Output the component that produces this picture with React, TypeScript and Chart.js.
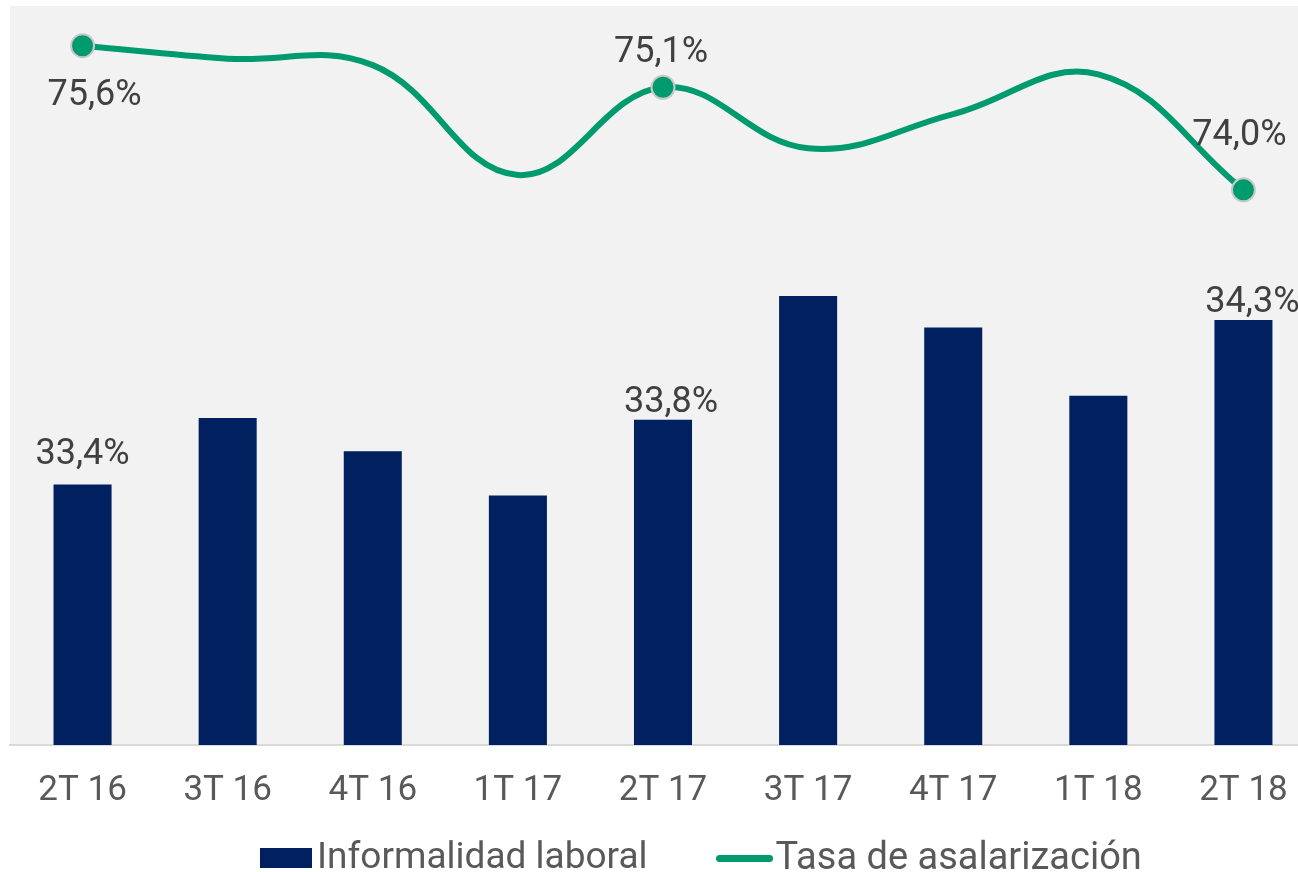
import React, { useEffect, useRef } from "react";
import { Chart, registerables } from "chart.js";

Chart.register(...registerables);

// ---- Data ----
const categories = ["2T 16", "3T 16", "4T 16", "1T 17", "2T 17", "3T 17", "4T 17", "1T 18", "2T 18"];
const informalidadLaboral = [33.41, 33.77, 33.59, 33.35, 33.76, 34.43, 34.26, 33.89, 34.3];
const tasaAsalarizacion = [75.57, 75.43, 75.36, 74.17, 75.12, 74.46, 74.83, 75.26, 74.01];
const labelledIndices = [0, 4, 8];
const barAxisRange = [32, 36];
const lineAxisRange = [68, 76];
const seriesNames = ["Informalidad laboral", "Tasa de asalarización"];

// ---- Styles ----
const NAVY = "#002060";
const GREEN = "#009a6f";
const PLOT_BG = "#f2f2f2";
const LABEL_COLOR = "#404040";
const TICK_COLOR = "#595959";
const FONT = "Roboto";

// label placement (dx, dy to baseline) relative to the mark
const barLabelPlacement = [
  [0, -21],
  [8, -8],
  [9, -8],
];
const lineLabelPlacement = [
  [12, 59],
  [-2, -25],
  [-4, -45],
];

const fmt = (v: number) => v.toFixed(1).replace(".", ",") + "%";

const plotBackground = {
  id: "plotBackground",
  beforeDraw(chart: any) {
    const { ctx, chartArea } = chart;
    ctx.save();
    ctx.fillStyle = PLOT_BG;
    ctx.fillRect(chartArea.left, chartArea.top, chartArea.right - chartArea.left, chartArea.bottom - chartArea.top);
    ctx.restore();
  },
};

const valueLabels = {
  id: "valueLabels",
  afterDatasetsDraw(chart: any) {
    const { ctx } = chart;
    ctx.save();
    ctx.font = `36px ${FONT}`;
    ctx.fillStyle = LABEL_COLOR;
    ctx.textAlign = "center";
    ctx.textBaseline = "alphabetic";
    const barMeta = chart.getDatasetMeta(0);
    const lineMeta = chart.getDatasetMeta(1);
    labelledIndices.forEach((idx, k) => {
      const b = barMeta.data[idx];
      const [bdx, bdy] = barLabelPlacement[k];
      ctx.fillText(fmt(informalidadLaboral[idx]), b.x + bdx, b.y + bdy);
      const p = lineMeta.data[idx];
      const [ldx, ldy] = lineLabelPlacement[k];
      ctx.fillText(fmt(tasaAsalarizacion[idx]), p.x + ldx, p.y + ldy);
    });
    ctx.restore();
  },
};

export default function App() {
  const canvasRef = useRef<HTMLCanvasElement | null>(null);

  useEffect(() => {
    if (!canvasRef.current) return;
    const pointRadii = categories.map((_, i) => (labelledIndices.includes(i) ? 11.5 : 0));
    const chart = new Chart(canvasRef.current, {
      type: "bar",
      data: {
        labels: categories,
        datasets: [
          {
            type: "bar",
            label: seriesNames[0],
            data: informalidadLaboral,
            backgroundColor: NAVY,
            borderWidth: 0,
            yAxisID: "y",
            categoryPercentage: 1,
            barPercentage: 0.4,
            order: 2,
          },
          {
            type: "line",
            label: seriesNames[1],
            data: tasaAsalarizacion,
            borderColor: GREEN,
            borderWidth: 6,
            tension: 0.4,
            pointRadius: pointRadii,
            pointHoverRadius: pointRadii,
            pointBackgroundColor: GREEN,
            pointBorderColor: "#c8c8c8",
            pointBorderWidth: 2,
            yAxisID: "y1",
            order: 1,
          } as any,
        ],
      },
      options: {
        responsive: false,
        devicePixelRatio: 1,
        animation: false,
        layout: { autoPadding: false, padding: { top: 6, left: 10, right: 14, bottom: 19 } },
        plugins: {
          legend: { display: false },
          tooltip: { enabled: false },
        },
        scales: {
          x: {
            offset: true,
            grid: { display: false, drawTicks: false },
            border: { display: true, color: "#d9d9d9", width: 2 },
            ticks: {
              color: TICK_COLOR,
              font: { family: FONT, size: 35 },
              padding: 25,
              maxRotation: 0,
              autoSkip: false,
            },
          },
          y: {
            display: false,
            min: barAxisRange[0],
            max: barAxisRange[1],
          },
          y1: {
            display: false,
            position: "right",
            min: lineAxisRange[0],
            max: lineAxisRange[1],
          },
        },
      } as any,
      plugins: [plotBackground, valueLabels],
    });
    return () => chart.destroy();
  }, []);

  return (
    <div
      style={{
        position: "absolute",
        left: 0,
        top: 0,
        width: 1298,
        height: 872,
        overflow: "hidden",
        background: "#ffffff",
      }}
    >
      <canvas
        ref={canvasRef}
        width={1330}
        height={856}
        style={{ position: "absolute", left: 0, top: 0, display: "block" }}
      />
      <div
        style={{
          position: "absolute",
          left: 260,
          top: 838,
          display: "flex",
          alignItems: "center",
          font: `37px ${FONT}`,
          lineHeight: "36px",
          color: TICK_COLOR,
          whiteSpace: "nowrap",
        }}
      >
        <span
          style={{ display: "inline-block", width: 52, height: 20, background: NAVY, marginRight: 5, position: "relative", top: 2 }}
        />
        <span>{seriesNames[0]}</span>
        <span
          style={{
            display: "inline-block",
            width: 57,
            height: 7,
            borderRadius: 4,
            background: GREEN,
            marginLeft: 68,
            marginRight: 3,
            position: "relative",
            top: 2,
          }}
        />
        <span style={{ fontSize: 38 }}>{seriesNames[1]}</span>
      </div>
    </div>
  );
}
